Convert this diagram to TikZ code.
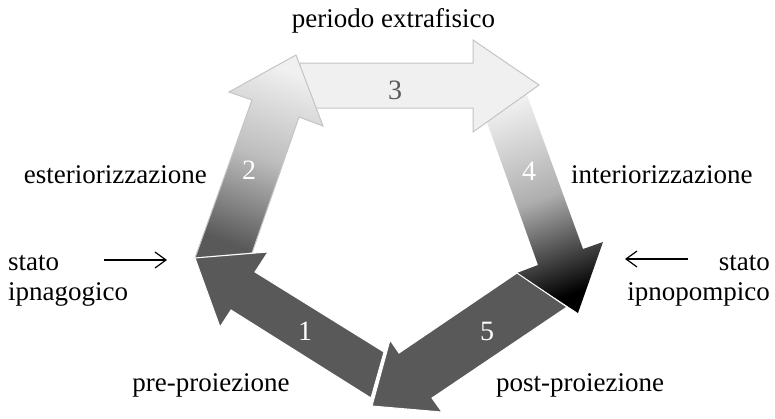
\documentclass[tikz,border=0pt]{standalone}
\usepackage{fontspec}
\setmainfont{Liberation Serif}
\usetikzlibrary{arrows.meta}
\definecolor{arrowdark}{HTML}{595959}
\definecolor{arrowlight}{HTML}{F0F0F0}
\definecolor{arrowmid}{HTML}{BDBDBD}
\definecolor{arrowedge}{HTML}{C4C4C4}
\begin{document}
\begin{tikzpicture}[x=1pt,y=-1pt,
  darkarrow/.style={fill=arrowdark,draw=white,line width=1pt},
  lightarrow/.style={fill=arrowlight,draw=arrowedge,line width=1pt},
  phase/.style={font=\fontsize{27}{30}\selectfont,inner sep=0pt},
  stepnum/.style={font=\fontsize{28}{30}\selectfont,text=white,inner sep=0pt},
  pointer/.style={-{Straight Barb[length=11pt,width=16pt]},line width=1.2pt}]
\useasboundingbox (0,0) rectangle (775,418);
% the five phases, back to front
\path[top color=arrowlight,bottom color=black,middle color=arrowmid!92!black,shading angle=20]
  (479,100) -- (538,265) -- (517,273) -- (578,313) -- (603,242) -- (583,249) -- (523,84) -- cycle;
\draw[lightarrow] (300,63) -- (473,63) -- (473,40) -- (539,85) -- (473,132) -- (473,108) -- (300,108) -- cycle;
\draw[draw=arrowedge,line width=1pt,top color=arrowlight,bottom color=arrowdark,middle color=arrowmid,shading angle=-20]
  (195,258) -- (252,100) -- (229,92) -- (296,55) -- (323,126) -- (299,117) -- (252,253) -- cycle;
\draw[darkarrow] (517,273) -- (399,353) -- (390,340) -- (372,406) -- (442,412) -- (432,398) -- (567,307) -- cycle;
\draw[darkarrow] (384,352) -- (255,272) -- (268,252) -- (195,258) -- (220,327) -- (231,310) -- (371,398) -- cycle;
% numbers
\node[stepnum] (n1) at (305,331) {1};
\node[stepnum] (n2) at (249,170) {2};
\node[stepnum,text=arrowdark] (n3) at (395,90) {3};
\node[stepnum] (n4) at (529,171) {4};
\node[stepnum] (n5) at (487,331) {5};
% phase names
\node[phase,anchor=base] (extra) at (393.5,27) {periodo extrafisico};
\node[phase,anchor=base east] (ester) at (207,183) {esteriorizzazione};
\node[phase,anchor=base west] (inter) at (571,183) {interiorizzazione};
\node[phase,anchor=base] (pre) at (211,391) {pre-proiezione};
\node[phase,anchor=base] (post) at (580,391) {post-proiezione};
\node[phase,anchor=base west,align=left] (ipnag) at (8,300) {stato\\ipnagogico};
\node[phase,anchor=base east,align=right] (ipnop) at (770,300) {stato\\ipnopompico};
\coordinate (ipnagS) at (104,260);
\coordinate (ipnagE) at (167,260);
\coordinate (ipnopS) at (688,259);
\coordinate (ipnopE) at (625,259);
\draw[pointer] (ipnagS) -- (ipnagE);
\draw[pointer] (ipnopS) -- (ipnopE);
\end{tikzpicture}
\end{document}
